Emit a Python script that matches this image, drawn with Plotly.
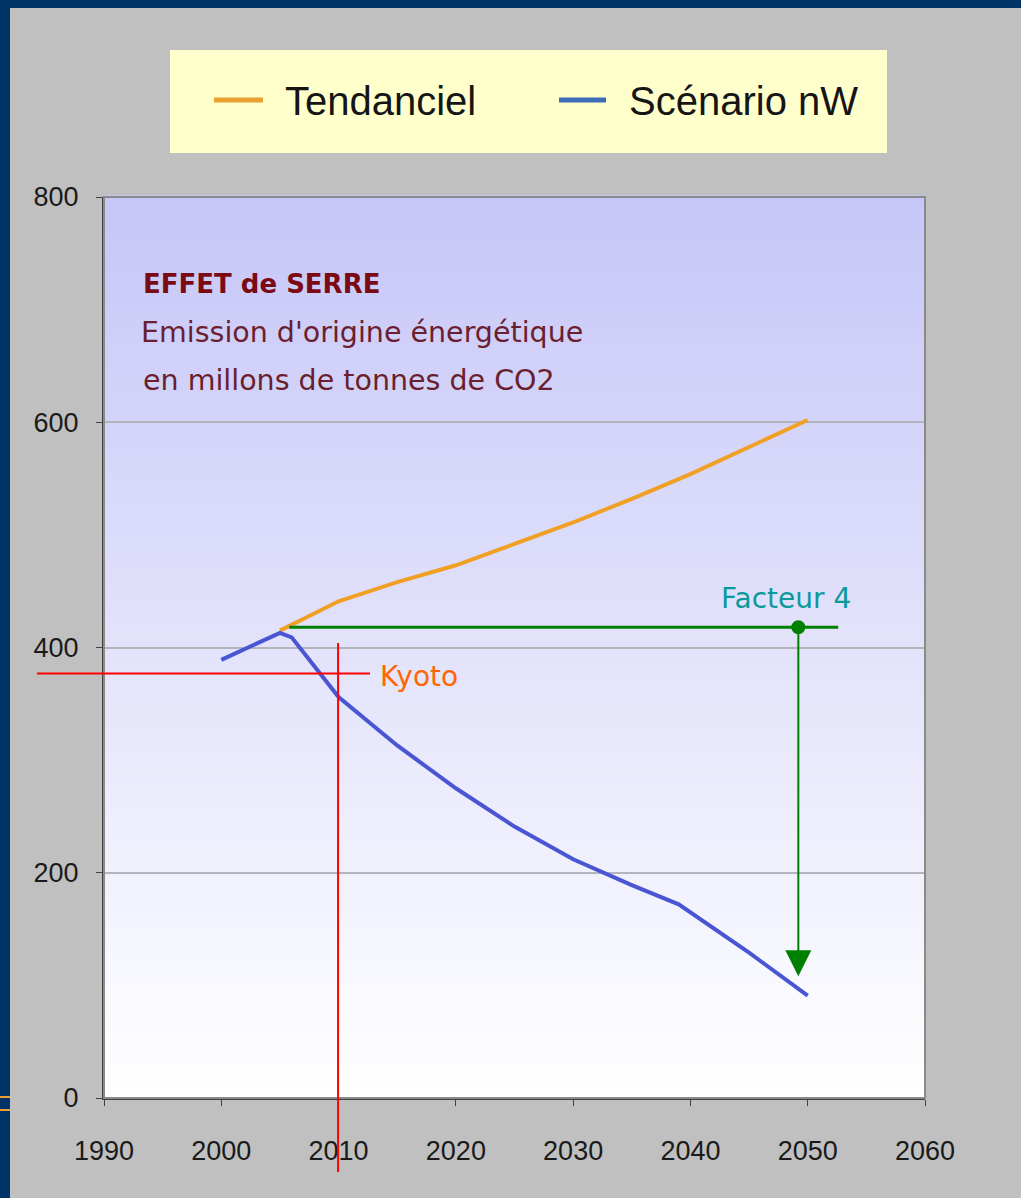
import plotly.graph_objects as go

# ---------------- data ----------------
years_trend = [2005, 2010, 2015, 2020, 2025, 2030, 2035, 2040, 2045, 2050]
tendanciel = [415, 441, 458, 473, 492, 511, 532, 554, 578, 602]

years_nw = [2000, 2005, 2006, 2010, 2015, 2020, 2025, 2030, 2035, 2039, 2045, 2050]
scenario_nw = [389, 413, 409, 356, 313, 275, 241, 212, 189, 172, 129, 91]

x_ticks = [1990, 2000, 2010, 2020, 2030, 2040, 2050, 2060]
y_ticks = [0, 200, 400, 600, 800]

kyoto_year, kyoto_level = 2010, 377
facteur_level, facteur_year, facteur_target = 418, 2049.2, 108

# ---------------- layout geometry ----------------
W, H = 1021, 1198
L, R, T, B = 104, 96, 197, 100
X0, X1 = 1990, 2060
Y0, Y1 = 0, 800
PW, PH = W - L - R, H - T - B


def px_x(px):
    return (px - L) / PW


def px_y(py):
    return (H - B - py) / PH


def yr_px(yr):
    return L + (yr - X0) / (X1 - X0) * PW


def val_py(v):
    return H - B - (v - Y0) / (Y1 - Y0) * PH


fig = go.Figure()
fig.add_trace(go.Scatter(x=years_trend, y=tendanciel, mode="lines", name="Tendanciel",
                         line=dict(color="#f0a125", width=4), showlegend=False,
                         hoverinfo="skip"))
fig.add_trace(go.Scatter(x=years_nw, y=scenario_nw, mode="lines", name="Scénario nW",
                         line=dict(color="#4a55d4", width=4), showlegend=False,
                         hoverinfo="skip"))

shapes = []
# gradient background in plot area
N = 90
c_top = (198, 198, 248)
c_bot = (255, 255, 255)
for i in range(N):
    t = i / (N - 1)
    c = tuple(round(c_top[k] + (c_bot[k] - c_top[k]) * t) for k in range(3))
    shapes.append(dict(type="rect", xref="x domain", yref="y domain",
                       x0=0, x1=1, y0=1 - (i + 1) / N, y1=1 - i / N + 0.002,
                       fillcolor="rgb(%d,%d,%d)" % c, line=dict(width=0), layer="below"))
# plot frame
shapes.append(dict(type="rect", xref="x domain", yref="y domain", x0=0, x1=1, y0=0, y1=1,
                   line=dict(color="#8a8a8a", width=2), layer="above"))
# slide decorations: navy borders
shapes.append(dict(type="rect", xref="paper", yref="paper", x0=px_x(0), x1=px_x(10),
                   y0=px_y(H), y1=px_y(0), fillcolor="#003366", line=dict(width=0)))
shapes.append(dict(type="rect", xref="paper", yref="paper", x0=px_x(0), x1=px_x(W),
                   y0=px_y(8), y1=px_y(0), fillcolor="#003366", line=dict(width=0)))
for yy in (1097, 1110):
    shapes.append(dict(type="line", xref="paper", yref="paper", x0=px_x(0), x1=px_x(10),
                       y0=px_y(yy), y1=px_y(yy), line=dict(color="#f0a030", width=2)))
# legend box
shapes.append(dict(type="rect", xref="paper", yref="paper", x0=px_x(170), x1=px_x(887),
                   y0=px_y(153), y1=px_y(50), fillcolor="#ffffcc", line=dict(width=0)))
shapes.append(dict(type="line", xref="paper", yref="paper", x0=px_x(214), x1=px_x(263),
                   y0=px_y(100), y1=px_y(100), line=dict(color="#e8a030", width=5)))
shapes.append(dict(type="line", xref="paper", yref="paper", x0=px_x(559), x1=px_x(606),
                   y0=px_y(100), y1=px_y(100), line=dict(color="#3f6cb8", width=5)))
# Kyoto cross
ky_x = yr_px(kyoto_year) - 0.5
ky_y = val_py(kyoto_level)
shapes.append(dict(type="line", xref="paper", yref="paper", x0=px_x(37), x1=px_x(370),
                   y0=px_y(ky_y), y1=px_y(ky_y), line=dict(color="#ff0000", width=2)))
shapes.append(dict(type="line", xref="paper", yref="paper", x0=px_x(ky_x), x1=px_x(ky_x),
                   y0=px_y(643), y1=px_y(1172), line=dict(color="#ff0000", width=2)))
# Facteur 4 line + dot
shapes.append(dict(type="line", xref="x", yref="y", x0=2005.8, x1=2052.6,
                   y0=facteur_level, y1=facteur_level, line=dict(color="#008000", width=3)))
shapes.append(dict(type="circle", xref="x", yref="y", xsizemode="pixel", ysizemode="pixel",
                   xanchor=facteur_year, yanchor=facteur_level, x0=-7, x1=7, y0=-7, y1=7,
                   fillcolor="#008000", line=dict(width=0)))

annotations = [
    dict(xref="paper", yref="paper", x=px_x(283), y=px_y(101), xanchor="left", yanchor="middle",
         text="Tendanciel", showarrow=False,
         font=dict(family="Liberation Sans, Arial", size=40, color="#151515")),
    dict(xref="paper", yref="paper", x=px_x(627), y=px_y(101), xanchor="left", yanchor="middle",
         text="Scénario nW", showarrow=False,
         font=dict(family="Liberation Sans, Arial", size=40, color="#151515")),
    dict(xref="paper", yref="paper", x=px_x(141), y=px_y(284), xanchor="left", yanchor="middle",
         text="<b>EFFET de SERRE</b>", showarrow=False,
         font=dict(family="DejaVu Sans", size=26, color="#7a0a14")),
    dict(xref="paper", yref="paper", x=px_x(139), y=px_y(332), xanchor="left", yanchor="middle",
         text="Emission d'origine énergétique", showarrow=False,
         font=dict(family="DejaVu Sans", size=28.5, color="#6a1f2e")),
    dict(xref="paper", yref="paper", x=px_x(141), y=px_y(380), xanchor="left", yanchor="middle",
         text="en millons de tonnes de CO2", showarrow=False,
         font=dict(family="DejaVu Sans", size=28.5, color="#6a1f2e")),
    dict(xref="paper", yref="paper", x=px_x(378), y=px_y(676), xanchor="left", yanchor="middle",
         text="Kyoto", showarrow=False,
         font=dict(family="DejaVu Sans", size=28, color="#ff6600")),
    dict(xref="paper", yref="paper", x=px_x(719), y=px_y(598), xanchor="left", yanchor="middle",
         text="Facteur 4", showarrow=False,
         font=dict(family="DejaVu Sans", size=28, color="#0a9a9a")),
    dict(xref="x", yref="y", axref="x", ayref="y", x=facteur_year, y=facteur_target,
         ax=facteur_year, ay=facteur_level, text="", showarrow=True,
         arrowhead=2, arrowsize=2.6, arrowwidth=2, arrowcolor="#008000"),
]

fig.update_layout(
    width=W, height=H,
    margin=dict(l=L, r=R, t=T, b=B, autoexpand=False),
    paper_bgcolor="#c0c0c0",
    plot_bgcolor="#ffffff",
    shapes=shapes,
    annotations=annotations,
    showlegend=False,
    xaxis=dict(range=[X0, X1], tickvals=x_ticks, ticktext=[str(v) for v in x_ticks],
               showgrid=False, zeroline=False, showline=True, linecolor="#404040", linewidth=2,
               ticks="outside", ticklen=6, tickcolor="#404040", ticklabelstandoff=22,
               tickfont=dict(family="Liberation Sans, Arial", size=27, color="#1a1a1a")),
    yaxis=dict(range=[Y0, Y1], tickvals=y_ticks, ticktext=[str(v) for v in y_ticks],
               showgrid=True, gridcolor="#b4b4bc", gridwidth=2, zeroline=False,
               showline=True, linecolor="#404040", linewidth=2,
               ticks="outside", ticklen=6, tickcolor="#404040", ticklabelstandoff=12,
               tickfont=dict(family="Liberation Sans, Arial", size=27, color="#1a1a1a")),
)

fig.write_html("out.html", config={"displayModeBar": False},
               post_script="document.body.style.margin='0';document.body.style.overflow='hidden';")
